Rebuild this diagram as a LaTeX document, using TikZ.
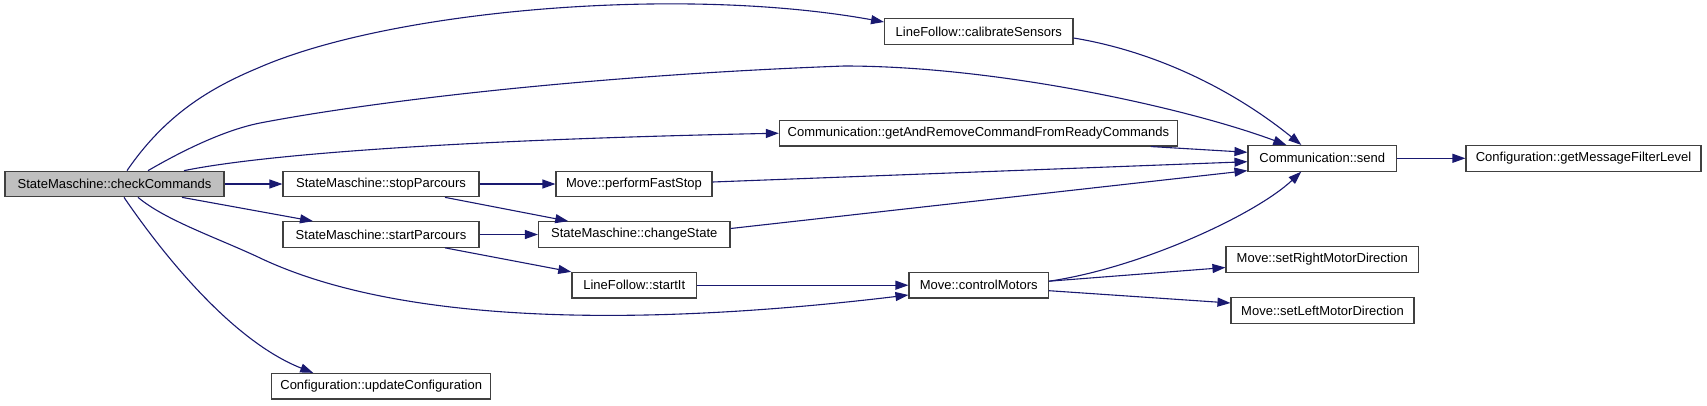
\documentclass[tikz,border=0pt]{standalone}
\usepackage{fontspec}
\setmainfont{Liberation Sans}
\usetikzlibrary{arrows.meta}
\definecolor{edgec}{HTML}{191970}
\definecolor{rootfill}{HTML}{BFBFBF}
\begin{document}
\begin{tikzpicture}[x=1pt,y=-1pt,
  fn/.style={draw=black!75, line width=1.1pt, fill=white, minimum height=25.6pt, inner sep=0pt, font=\fontsize{13}{15}\selectfont},
  root/.style={fn, fill=rootfill},
  edge/.style={draw=edgec, line width=1.1pt, -{Triangle[length=13pt,width=9pt]}}]
\useasboundingbox (0,0) rectangle (1707,405);
\node[root, minimum width=219pt] (cc) at (114.5,184) {StateMaschine::checkCommands};
\node[fn, minimum width=196pt] (stop) at (381,184) {StateMaschine::stopParcours};
\node[fn, minimum width=196pt] (start) at (381,234.5) {StateMaschine::startParcours};
\node[fn, minimum width=219.3pt] (upd) at (381.2,386.2) {Configuration::updateConfiguration};
\node[fn, minimum width=156pt] (pfs) at (634,184) {Move::performFastStop};
\node[fn, minimum width=191.5pt] (cs) at (634.25,234.5) {StateMaschine::changeState};
\node[fn, minimum width=124.5pt] (sit) at (634.25,285.2) {LineFollow::startIt};
\node[fn, minimum width=188.4pt] (cal) at (978.8,31.7) {LineFollow::calibrateSensors};
\node[fn, minimum width=398pt] (gar) at (978.4,133.2) {Communication::getAndRemoveCommandFromReadyCommands};
\node[fn, minimum width=139.4pt] (ctrl) at (978.7,285.2) {Move::controlMotors};
\node[fn, minimum width=148.6pt] (send) at (1322.3,158.3) {Communication::send};
\node[fn, minimum width=192.6pt] (setr) at (1322.3,259.5) {Move::setRightMotorDirection};
\node[fn, minimum width=183pt] (setl) at (1322.5,310.5) {Move::setLeftMotorDirection};
\node[fn, minimum width=235pt] (gmfl) at (1583.5,158.3) {Configuration::getMessageFilterLevel};

\draw[edge] ([xshift=12.5pt]cc.north) .. controls (165,115) and (210,88) .. (258,68)
  .. controls (390,10) and (680,-15) .. ([yshift=9.7pt]cal.west);
\draw[edge] ([xshift=33.5pt]cc.north) .. controls (175,155) and (220,131) .. (260,123)
  .. controls (380,100) and (600,75) .. (844,66)
  .. controls (1000,66) and (1190,109) .. ([xshift=-36pt]send.north);
\draw[edge] ([xshift=69.5pt]cc.north) .. controls (260,155) and (450,140) .. (gar.west);
\draw[edge] (cc.east) -- (stop.west);
\draw[edge] ([xshift=67.5pt]cc.south) -- ([xshift=-68pt]start.north);
\draw[edge] ([xshift=23.5pt]cc.south) .. controls (165,220) and (215,237) .. (258,257)
  .. controls (420,335) and (700,320) .. ([yshift=-9.8pt]ctrl.west);
\draw[edge] ([xshift=9.5pt]cc.south) .. controls (160,250) and (230,340) .. ([xshift=-68pt]upd.north);
\draw[edge] (stop.east) -- (pfs.west);
\draw[edge] ([xshift=64pt]stop.south) -- ([xshift=-66pt]cs.north);
\draw[edge] (start.east) -- (cs.west);
\draw[edge] ([xshift=64pt]start.south) -- ([xshift=-63pt]sit.north);
\draw[edge] ([yshift=2pt]pfs.east) -- ([yshift=-3.4pt]send.west);
\draw[edge] ([xshift=-27pt]gar.south east) -- ([yshift=6pt]send.west);
\draw[edge] ([yshift=6pt]cs.east) -- ([yshift=1pt]send.south west);
\draw[edge] ([yshift=-6.3pt]cal.east) .. controls (1153,51) and (1231,88) .. ([xshift=-21pt]send.north);
\draw[edge] (send.east) -- (gmfl.west);
\draw[edge] (sit.east) -- (ctrl.west);
\draw[edge] ([yshift=4pt]ctrl.east) .. controls (1140,268) and (1255,215) .. ([xshift=-21pt]send.south);
\draw[edge] ([yshift=4pt]ctrl.east) -- ([yshift=-8pt]setr.west);
\draw[edge] ([yshift=-5.5pt]ctrl.east) -- ([yshift=7.5pt]setl.west);
\end{tikzpicture}
\end{document}
